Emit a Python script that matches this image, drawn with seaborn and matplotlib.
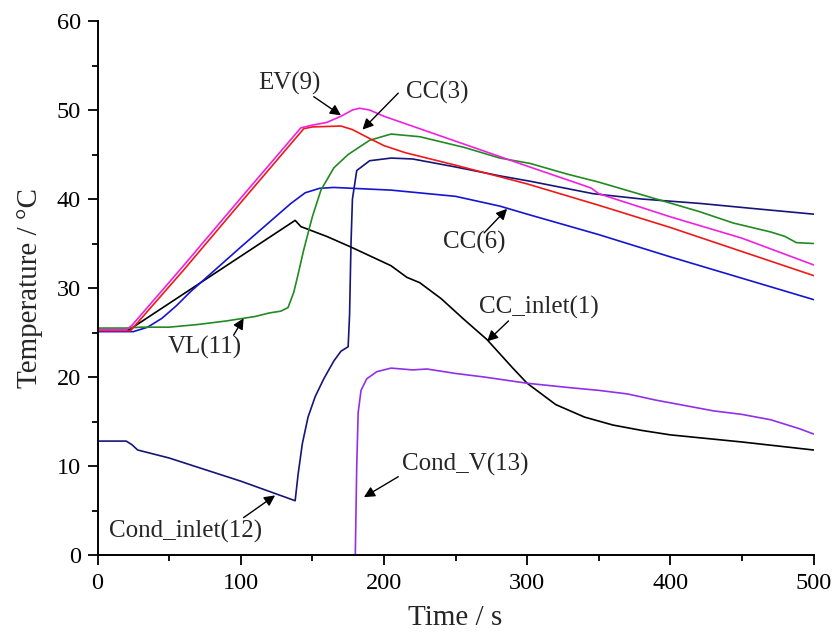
import numpy as np
import pandas as pd
import matplotlib
matplotlib.use("Agg")
import matplotlib.pyplot as plt
import seaborn as sns

# ---------------- data ----------------
ev9_t = [0, 20, 24, 60, 100, 142, 150, 160, 170, 178, 183, 190, 200, 250, 300, 340, 345, 350, 400, 450, 500]
ev9_T = [25.3, 25.3, 25.8, 32.5, 40.1, 48.0, 48.3, 48.6, 49.3, 50.0, 50.2, 50.0, 49.3, 46.5, 43.7, 41.5, 41.2, 40.6, 38.0, 35.6, 32.6]

cc3_t = [0, 23, 60, 100, 144, 150, 170, 178, 190, 200, 215, 250, 300, 350, 400, 450, 500]
cc3_T = [25.2, 25.2, 32.0, 39.6, 47.9, 48.1, 48.2, 47.8, 46.8, 46.0, 45.2, 43.8, 41.7, 39.3, 36.8, 34.1, 31.4]

vl11_t = [0, 20, 30, 50, 70, 90, 110, 120, 128, 133, 137, 140, 144, 150, 156, 165, 175, 190, 205,
          225, 256, 281, 302, 328, 350, 386, 420, 444, 470, 480, 488, 500]
vl11_T = [25.5, 25.5, 25.6, 25.6, 25.9, 26.3, 26.8, 27.2, 27.4, 27.8, 29.5, 31.5, 34.3, 38.0, 41.0, 43.5, 45.0, 46.6, 47.3,
          47.0, 45.8, 44.6, 44.0, 42.8, 41.9, 40.2, 38.6, 37.3, 36.3, 35.8, 35.1, 35.0]

cc6_t = [0, 25, 35, 45, 55, 65, 100, 135, 145, 155, 165, 205, 250, 281, 300, 350, 400, 450, 500]
cc6_T = [25.1, 25.1, 25.6, 26.6, 28.0, 29.6, 34.6, 39.5, 40.7, 41.2, 41.3, 41.0, 40.3, 39.2, 38.3, 36.0, 33.5, 31.1, 28.7]

cc1_t = [0, 22, 138, 142, 160, 177, 205, 216, 225, 240, 255, 272, 290, 300, 320, 340, 360, 380, 400, 450, 500]
cc1_T = [25.3, 25.3, 37.6, 36.9, 35.8, 34.6, 32.5, 31.2, 30.6, 28.8, 26.6, 24.2, 21.0, 19.3, 16.9, 15.5, 14.6, 14.0, 13.5, 12.7, 11.8]

ci12_t = [0, 20, 24, 28, 50, 100, 138, 140, 143, 147, 152, 158, 165, 170, 175, 176, 177, 178, 181, 190,
          205, 220, 250, 281, 302, 346, 380, 421, 460, 500]
ci12_T = [12.8, 12.8, 12.4, 11.8, 10.9, 8.3, 6.1, 9.0, 12.5, 15.5, 17.8, 19.8, 21.8, 22.9, 23.4, 27.0, 35.0, 40.0, 43.2, 44.3,
          44.6, 44.5, 43.6, 42.6, 42.0, 40.6, 40.0, 39.5, 38.9, 38.3]

cv13_t = [180, 181, 182, 184, 188, 195, 205, 220, 230, 250, 270, 300, 330, 350, 370, 390, 410, 430, 450, 470, 490, 500]
cv13_T = [0.0, 10.0, 16.0, 18.5, 19.8, 20.6, 21.0, 20.8, 20.9, 20.4, 20.0, 19.3, 18.8, 18.5, 18.1, 17.4, 16.8, 16.2, 15.8, 15.2, 14.2, 13.6]

series_names = ["Cond_inlet(12)", "CC_inlet(1)", "CC(6)", "VL(11)", "CC(3)", "EV(9)", "Cond_V(13)"]
series_t = [ci12_t, cc1_t, cc6_t, vl11_t, cc3_t, ev9_t, cv13_t]
series_T = [ci12_T, cc1_T, cc6_T, vl11_T, cc3_T, ev9_T, cv13_T]
colors = ["#15157a", "#000000", "#1414d2", "#228a22", "#f01818", "#f020e0", "#9030e8"]

# annotation: label, text centre, arrow start, arrow tip (data coords)
annotations = [
    ("EV(9)",          (134, 53.0), (151, 51.5), (170, 49.4)),
    ("CC(3)",          (237, 52.0), (210, 51.9), (185, 47.8)),
    ("CC(6)",          (263, 35.1), (270, 36.2), (286, 38.9)),
    ("CC_inlet(1)",    (308, 27.8), (287, 26.3), (272, 24.0)),
    ("VL(11)",         (75, 23.3),  (95, 24.7),  (102, 26.6)),
    ("Cond_V(13)",     (257, 10.2), (210, 8.8),  (186, 6.5)),
    ("Cond_inlet(12)", (61.5, 2.6), (102, 4.2),  (124, 6.7)),
]

frames = [pd.DataFrame({"Time": t, "Temp": T, "Sensor": n}) for n, t, T in zip(series_names, series_t, series_T)]
df = pd.concat(frames, ignore_index=True)

# ---------------- style ----------------
sns.set_style("ticks")
plt.rcParams["font.family"] = ["Liberation Serif", "DejaVu Serif"]

fig = plt.figure(figsize=(8.38, 6.33), dpi=100)
ax = fig.add_axes([0.1164, 0.1232, 0.8544, 0.8436])

sns.lineplot(data=df, x="Time", y="Temp", hue="Sensor", hue_order=series_names,
             palette=dict(zip(series_names, colors)), estimator=None, sort=False,
             linewidth=1.2, legend=False, ax=ax)

ax.set_xlim(0, 500)
ax.set_ylim(0, 60)
ax.set_xticks([0, 100, 200, 300, 400, 500])
ax.set_yticks([0, 10, 20, 30, 40, 50, 60])
ax.set_xticks(np.arange(50, 500, 100), minor=True)
ax.set_yticks(np.arange(5, 60, 10), minor=True)

for s in ["top", "right"]:
    ax.spines[s].set_visible(False)
for s in ["left", "bottom"]:
    ax.spines[s].set_linewidth(1.4)
    ax.spines[s].set_color("black")

ax.tick_params(axis="both", which="major", direction="out", length=7, width=1.3,
               labelsize=17.5, colors="black")
ax.tick_params(axis="x", which="major", pad=6)
ax.tick_params(axis="y", which="major", pad=5)
ax.tick_params(axis="both", which="minor", direction="out", length=4, width=1.3, colors="black")

ax.set_xlabel("Time / s", fontsize=21, labelpad=8)
ax.set_ylabel("Temperature / °C", fontsize=21, labelpad=10)

for label, tc, start, tip in annotations:
    ax.text(tc[0], tc[1], label, fontsize=18, ha="center", va="center")
    ax.annotate("", xy=tip, xytext=start,
                arrowprops=dict(arrowstyle="-|>", color="black", lw=1.0,
                                mutation_scale=16, shrinkA=0, shrinkB=0))

fig.savefig("out.png", dpi=100, facecolor="white")
